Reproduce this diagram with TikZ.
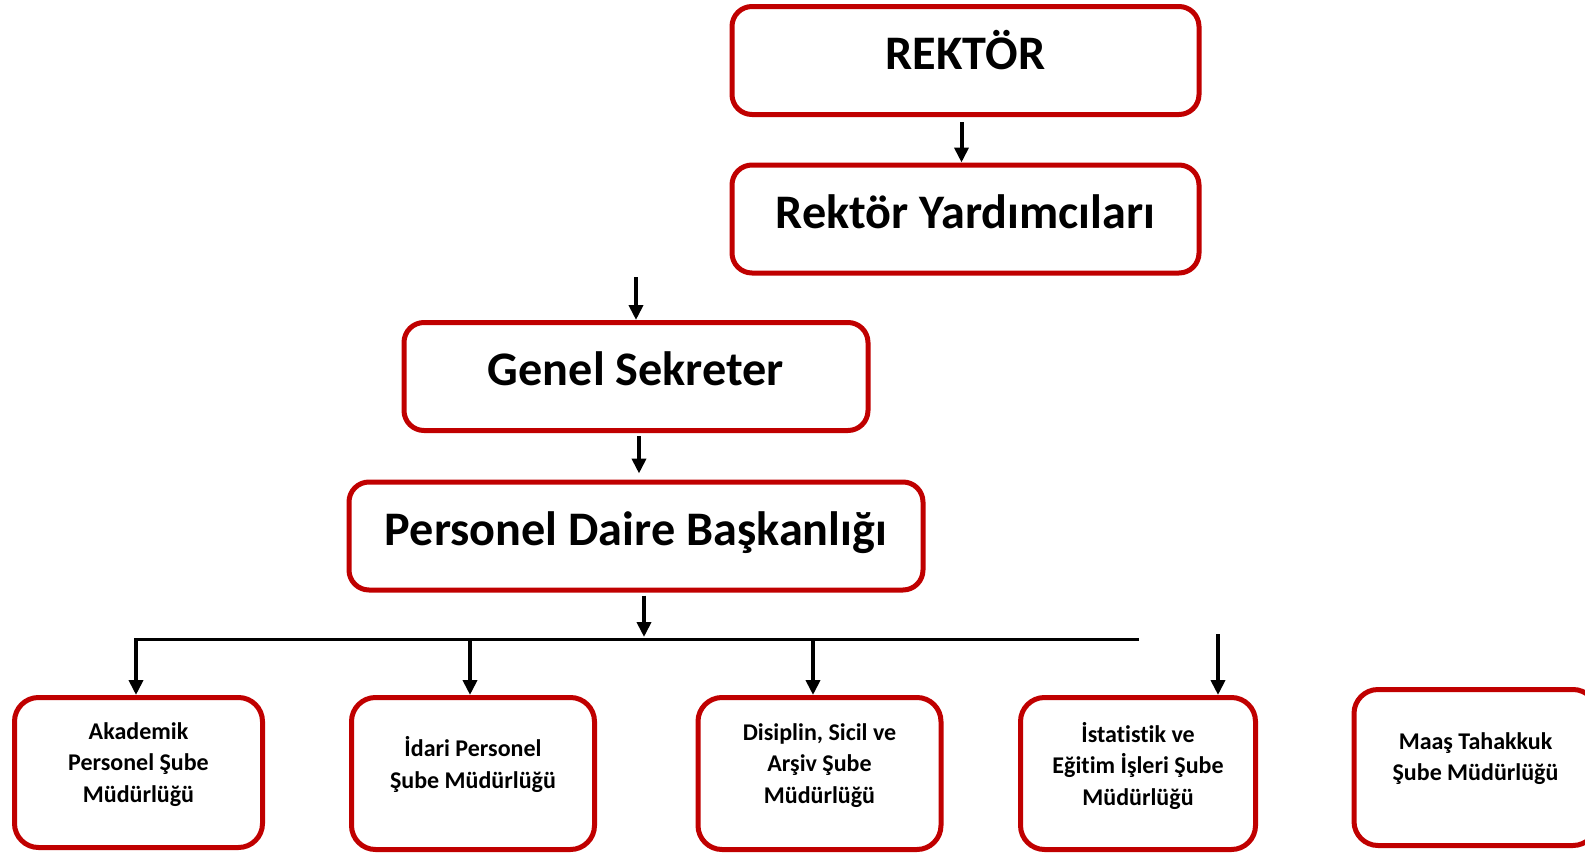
\documentclass[tikz,border=0pt]{standalone}
\usepackage{fontspec}
\setmainfont[Ligatures=NoCommon]{Carlito}
\usetikzlibrary{arrows.meta}
\definecolor{boxred}{RGB}{192,0,0}

\begin{document}
\begin{tikzpicture}[x=1pt,y=-1pt,>={Triangle[width=14pt,length=15pt]},line join=bevel,
  bigbox/.style={draw=boxred,line width=5pt,rounded corners=20pt,minimum height=108pt},
  smallbox/.style={draw=boxred,line width=5pt,rounded corners=24pt,minimum width=243pt,minimum height=152pt},
  bigtext/.style={anchor=base,inner sep=0pt,font=\fontsize{48.2}{58}\selectfont\bfseries},
  smalltext/.style={align=center,inner sep=0pt,font=\fontsize{24}{31.5}\selectfont\bfseries},
  conn/.style={black,line width=4pt,->},
]
\useasboundingbox (0,0) rectangle (1585,854);
\clip (0,0) rectangle (1585,854);
%%
\node (node_rektor) at (965.5,60.5) [bigbox,minimum width=467pt] {};
  \node (node_yard) at (965.5,219) [bigbox,minimum width=467pt] {};
  \node (node_genel) at (636,376.5) [bigbox,minimum width=464pt] {};
  \node (node_pdb) at (636,536) [bigbox,minimum width=574pt] {};
  \node (txt_rektor) at ([yshift=-9pt]node_rektor.center) [bigtext] {REKTÖR};
  \node (txt_yard) at ([yshift=-9pt]node_yard.center) [bigtext] {Rektör Yardımcıları};
  \node (txt_genel) at ([yshift=-9pt]node_genel.center) [bigtext] {Genel Sekreter};
  \node (txt_pdb) at ([yshift=-9pt]node_pdb.center) [bigtext] {Personel Daire Başkanlığı};
%
\node (node_akad) at (138.5,772.5) [smallbox,minimum width=248pt,minimum height=150pt] {};
  \node (node_idari) at (473,773.5) [smallbox] {};
  \node (node_disiplin) at (819.5,773.5) [smallbox] {};
  \node (node_ist) at (1138,773.5) [smallbox,minimum width=235pt] {};
  \node (node_maas) at (1475.5,767.5) [smallbox,minimum height=156pt] {};
  \node (txt_akad) at ([yshift=8pt]node_akad.center) [smalltext] {Akademik\\Personel Şube\\Müdürlüğü};
  \node (txt_idari) at ([yshift=9pt]node_idari.center) [smalltext] {İdari Personel\\Şube Müdürlüğü};
  \node (txt_disiplin) at ([yshift=8pt]node_disiplin.center) [smalltext] {Disiplin, Sicil ve\\Arşiv Şube\\Müdürlüğü};
  \node (txt_ist) at ([yshift=8pt]node_ist.center) [smalltext] {İstatistik ve\\Eğitim İşleri Şube\\Müdürlüğü};
  \node (txt_maas) at ([yshift=9pt]node_maas.center) [smalltext] {Maaş Tahakkuk\\Şube Müdürlüğü};
%
\coordinate (in_genel) at (636,277);
  \coordinate (in_ist) at (1218,634);
  \coordinate (bus_l) at (136,639);
  \coordinate (bus_r) at (1139,639);
  \coordinate (bus_m) at (644,637);
  \coordinate (drop_idari) at (470,639);
  \coordinate (drop_disiplin) at (813,639);
  \draw [conn] ([xshift=-4pt,yshift=-5pt]node_rektor.south) -- ([xshift=-4pt]node_yard.north);
  \draw [conn] (in_genel) -- (node_genel.north);
  \draw [conn] ([xshift=3pt,yshift=-3pt]node_genel.south) -- ([xshift=3pt,yshift=6pt]node_pdb.north);
  \draw [conn] ([xshift=8pt,yshift=-3pt]node_pdb.south) -- (bus_m);
  \draw [black,line width=3pt] (bus_r) -- ([xshift=-2pt]bus_l);
  \draw [conn] (bus_l) -- (bus_l |- node_akad.north);
  \draw [conn] (drop_idari) -- (drop_idari |- node_idari.north);
  \draw [conn] (drop_disiplin) -- (drop_disiplin |- node_disiplin.north);
  \draw [conn] (in_ist) -- (in_ist |- node_ist.north);
%
\end{tikzpicture}
\end{document}
